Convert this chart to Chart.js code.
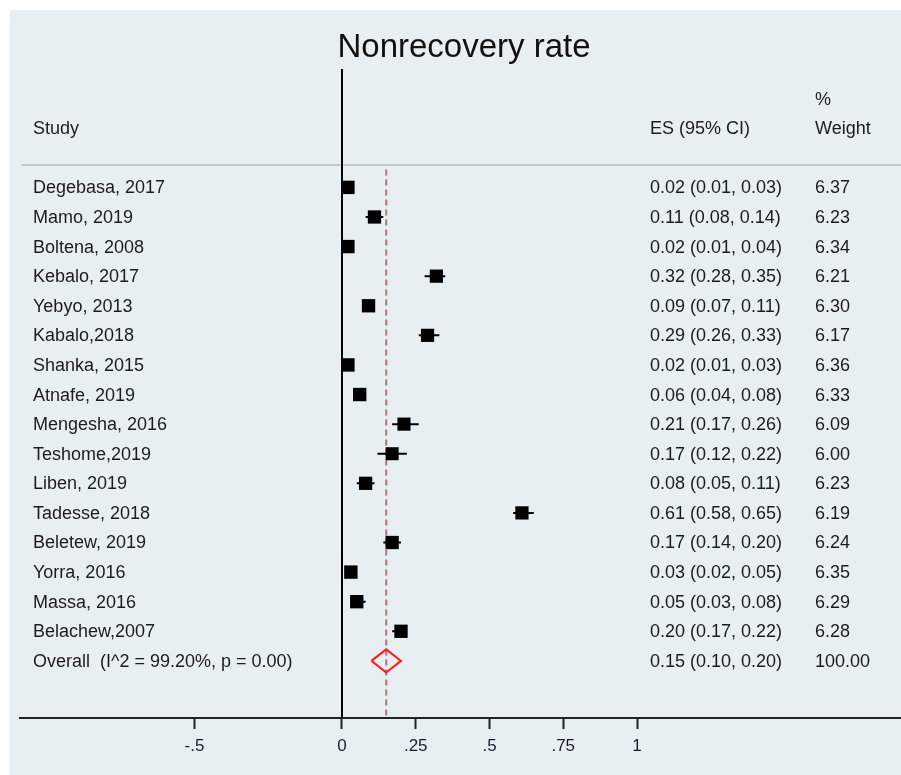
<!DOCTYPE html>
<html>
<head>
<meta charset="utf-8">
<script src="https://cdn.jsdelivr.net/npm/chart.js@4/dist/chart.umd.min.js"></script>
<style>
html,body{margin:0;padding:0;background:#ffffff;}
#wrap{width:901px;height:775px;position:relative;}
</style>
</head>
<body>
<div id="wrap"><canvas id="c" width="901" height="775"></canvas></div>
<script>
// ---- Data ----
const studies = ["Degebasa, 2017","Mamo, 2019","Boltena, 2008","Kebalo, 2017","Yebyo, 2013","Kabalo,2018","Shanka, 2015","Atnafe, 2019","Mengesha, 2016","Teshome,2019","Liben, 2019","Tadesse, 2018","Beletew, 2019","Yorra, 2016","Massa, 2016","Belachew,2007"];
const es      = [0.02,0.11,0.02,0.32,0.09,0.29,0.02,0.06,0.21,0.17,0.08,0.61,0.17,0.03,0.05,0.20];
const ciLow   = [0.01,0.08,0.01,0.28,0.07,0.26,0.01,0.04,0.17,0.12,0.05,0.58,0.14,0.02,0.03,0.17];
const ciHigh  = [0.03,0.14,0.04,0.35,0.11,0.33,0.03,0.08,0.26,0.22,0.11,0.65,0.20,0.05,0.08,0.22];
const weights = ["6.37","6.23","6.34","6.21","6.30","6.17","6.36","6.33","6.09","6.00","6.23","6.19","6.24","6.35","6.29","6.28"];
const overallLabel = "Overall  (I^2 = 99.20%, p = 0.00)";
const overallES = 0.15, overallLow = 0.10, overallHigh = 0.20;
const overallWeight = "100.00";
const tickValues = [-0.5, 0, 0.25, 0.5, 0.75, 1];
const tickLabels = ["-.5", "0", ".25", ".5", ".75", "1"];
const titleText = "Nonrecovery rate";

// ---- Build datasets ----
const nRows = studies.length;
const overallRow = nRows;
const fmt = v => v.toFixed(2);
const esText = es.map((v,i)=>`${fmt(v)} (${fmt(ciLow[i])}, ${fmt(ciHigh[i])})`);
const overallText = `${fmt(overallES)} (${fmt(overallLow)}, ${fmt(overallHigh)})`;

const whiskerPts = [];
es.forEach((v,i)=>{
  whiskerPts.push({x:ciLow[i], y:i});
  whiskerPts.push({x:ciHigh[i], y:i});
  whiskerPts.push({x:ciHigh[i], y:null});
});
const boxPts = es.map((v,i)=>({x:v, y:i}));
const boxRadius = weights.map(w => 9.4*Math.sqrt(parseFloat(w)/6.25));
const dh = 0.39;
const diamondPts = [
  {x:overallLow, y:overallRow},{x:overallES, y:overallRow-dh},
  {x:overallHigh, y:overallRow},{x:overallES, y:overallRow+dh},
  {x:overallLow, y:overallRow}
];

const X_MIN = -322/295, X_MAX = 559/295;
const Y_MIN = -4, Y_MAX = 17.93;

const panelPlugin = {
  id:'panel',
  beforeDraw(chart){
    const ctx = chart.ctx;
    ctx.save();
    ctx.fillStyle = '#ffffff';
    ctx.fillRect(0,0,chart.width,chart.height);
    ctx.fillStyle = '#e8eff2';
    ctx.fillRect(10,10,chart.width-10,chart.height-10);
    ctx.restore();
  }
};

const textPlugin = {
  id:'texts',
  afterDraw(chart){
    const ctx = chart.ctx;
    const ys = chart.scales.y;
    ctx.save();
    ctx.fillStyle = '#1b1b22';
    ctx.textBaseline = 'middle';
    ctx.textAlign = 'left';
    ctx.font = '18px "Liberation Sans", Arial, sans-serif';
    const colStudy = 33, colES = 650, colW = 815;
    const yp = v => ys.getPixelForValue(v) + 1;
    ctx.fillText('%', colW, yp(-3));
    ctx.fillText('Study', colStudy, yp(-2));
    ctx.fillText('ES (95% CI)', colES, yp(-2));
    ctx.fillText('Weight', colW, yp(-2));
    studies.forEach((s,i)=>{
      const y = yp(i);
      ctx.fillText(s, colStudy, y);
      ctx.fillText(esText[i], colES, y);
      ctx.fillText(weights[i], colW, y);
    });
    const yo = yp(overallRow);
    ctx.fillText(overallLabel, colStudy, yo);
    ctx.fillText(overallText, colES, yo);
    ctx.fillText(overallWeight, colW, yo);
    // title
    ctx.textAlign = 'center';
    ctx.font = '33px "Liberation Sans", Arial, sans-serif';
    ctx.fillStyle = '#111111';
    ctx.fillText(titleText, 464, 48);
    ctx.restore();
  }
};

new Chart(document.getElementById('c'), {
  type:'scatter',
  data:{
    datasets:[
      { // boxes
        data: boxPts, showLine:false, pointStyle:'rect',
        pointRadius: boxRadius, pointHoverRadius: boxRadius,
        backgroundColor:'#000000', borderWidth:0, order:1
      },
      { // whiskers
        data: whiskerPts, showLine:true, spanGaps:false, pointRadius:0,
        borderColor:'#000000', borderWidth:2, order:2
      },
      { // diamond
        data: diamondPts, showLine:true, pointRadius:0, fill:false,
        borderColor:'#ff1a1a', borderWidth:2, tension:0, order:3
      },
      { // overall dashed line
        data:[{x:overallES,y:-0.6},{x:overallES,y:Y_MAX}], showLine:true, pointRadius:0,
        borderColor:'#b5727a', borderWidth:2, borderDash:[6,4], order:4
      },
      { // null line
        data:[{x:0,y:Y_MIN},{x:0,y:Y_MAX}], showLine:true, pointRadius:0,
        borderColor:'#000000', borderWidth:2, order:5
      },
      { // header separator
        data:[{x:X_MIN+0.004,y:-0.76},{x:X_MAX,y:-0.76}], showLine:true, pointRadius:0,
        borderColor:'#c6c9cb', borderWidth:2, order:6
      }
    ]
  },
  options:{
    responsive:false,
    animation:false,
    events:[],
    layout:{autoPadding:false, padding:{left:20,top:69,right:0,bottom:0}},
    plugins:{legend:{display:false},tooltip:{enabled:false},title:{display:false}},
    scales:{
      x:{
        type:'linear', min:X_MIN, max:X_MAX,
        afterBuildTicks(scale){ scale.ticks = tickValues.map(v=>({value:v})); },
        afterFit(scale){ scale.height = 775-718; },
        ticks:{
          autoSkip:false, maxRotation:0, padding:7,
          color:'#1b1b2e',
          font:{family:'"Liberation Sans", Arial, sans-serif', size:17},
          callback(v){ const k = tickValues.indexOf(v); return k>=0 ? tickLabels[k] : ''; }
        },
        grid:{drawOnChartArea:false, drawTicks:true, tickLength:11, tickWidth:2, tickColor:'#222222'},
        border:{display:true, color:'#222222', width:2}
      },
      y:{
        type:'linear', display:false, reverse:true, min:Y_MIN, max:Y_MAX
      }
    }
  },
  plugins:[panelPlugin, textPlugin]
});
</script>
</body>
</html>
